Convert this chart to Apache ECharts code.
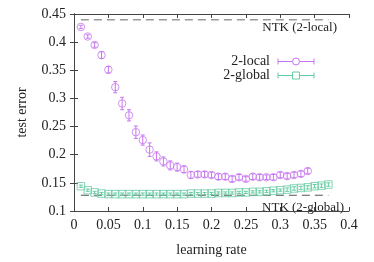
<!DOCTYPE html>
<html><head><meta charset="utf-8">
<script src="https://cdn.jsdelivr.net/npm/echarts@6/dist/echarts.min.js"></script>
<style>html,body{margin:0;padding:0;background:#fff}#c{width:374px;height:262px}</style>
</head><body><div id="c"></div>
<script>
const xLocal = [0.01,0.02,0.03,0.04,0.05,0.06,0.07,0.08,0.09,0.10,0.11,0.12,0.13,0.14,0.15,0.16,0.17,0.18,0.19,0.20,0.21,0.22,0.23,0.24,0.25,0.26,0.27,0.28,0.29,0.30,0.31,0.32,0.33,0.34];
const yLocal = [0.427,0.410,0.395,0.377,0.351,0.320,0.291,0.270,0.240,0.226,0.209,0.197,0.188,0.181,0.178,0.174,0.164,0.165,0.165,0.164,0.161,0.161,0.157,0.160,0.157,0.161,0.160,0.160,0.160,0.164,0.162,0.164,0.166,0.171];
const eLocal = [0.003,0.003,0.004,0.006,0.006,0.010,0.011,0.010,0.011,0.009,0.012,0.008,0.008,0.008,0.007,0.006,0.006,0.005,0.005,0.005,0.005,0.005,0.005,0.005,0.004,0.005,0.005,0.004,0.005,0.005,0.005,0.005,0.005,0.005];
const xGlobal = [0.01,0.02,0.03,0.04,0.05,0.06,0.07,0.08,0.09,0.10,0.11,0.12,0.13,0.14,0.15,0.16,0.17,0.18,0.19,0.20,0.21,0.22,0.23,0.24,0.25,0.26,0.27,0.28,0.29,0.30,0.31,0.32,0.33,0.34,0.35,0.36,0.37];
const yGlobal = [0.144,0.137,0.133,0.131,0.130,0.130,0.130,0.130,0.130,0.130,0.130,0.130,0.130,0.130,0.130,0.130,0.131,0.131,0.131,0.131,0.132,0.132,0.132,0.133,0.133,0.134,0.134,0.135,0.136,0.137,0.138,0.140,0.141,0.142,0.144,0.145,0.147];
const eGlobal = [0.002,0.002,0.002,0.002,0.002,0.002,0.002,0.002,0.002,0.002,0.002,0.002,0.002,0.002,0.002,0.002,0.002,0.002,0.002,0.002,0.002,0.002,0.002,0.002,0.002,0.002,0.002,0.002,0.002,0.002,0.003,0.003,0.003,0.003,0.003,0.003,0.003];
const ntkLocal = 0.44;
const ntkGlobal = 0.128;
const ntkRange = [0.01,0.37];
const xTicks = [0,0.05,0.1,0.15,0.2,0.25,0.3,0.35,0.4];
const yTicks = [0.1,0.15,0.2,0.25,0.3,0.35,0.4,0.45];

const cLocal = '#c775f0';
const cGlobal = '#66cba3';
const font = 'Liberation Serif';
const axisCol = '#444';
const txt = '#222';

function errSeries(xs, ys, es, color, z) {
  return {
    type: 'custom', z: z,
    data: xs.map((x,i)=>[x, ys[i]-es[i], ys[i]+es[i]]),
    renderItem: function(params, api){
      const lo = api.coord([api.value(0), api.value(1)]);
      const hi = api.coord([api.value(0), api.value(2)]);
      const w = 2;
      const st = {stroke: color, lineWidth: 1};
      return {type:'group', children:[
        {type:'line', shape:{x1:lo[0],y1:lo[1],x2:hi[0],y2:hi[1]}, style:st},
        {type:'line', shape:{x1:lo[0]-w,y1:lo[1],x2:lo[0]+w,y2:lo[1]}, style:st},
        {type:'line', shape:{x1:hi[0]-w,y1:hi[1],x2:hi[0]+w,y2:hi[1]}, style:st}
      ]};
    }
  };
}

const chart = echarts.init(document.getElementById('c'), null, {renderer:'canvas'});
const axisCommon = {
  min: 0, max: 0.4, interval: 0.05,
  axisLine: {show:true, lineStyle:{color:axisCol, width:1}},
  axisTick: {show:true, inside:true, length:4, lineStyle:{color:axisCol}},
  splitLine: {show:false}
};
chart.setOption({
  animation: false,
  grid: {left:74, right:25, top:14, bottom:44},
  xAxis: [
    Object.assign({}, axisCommon, {
      type:'value', position:'bottom',
      name:'learning rate', nameLocation:'middle', nameGap:32,
      nameTextStyle:{fontFamily:font, fontSize:14, color:txt},
      axisLabel:{fontFamily:font, fontSize:14, color:txt, margin:7,
        formatter: v => { const t = xTicks.find(k=>Math.abs(k-v)<1e-9); return t===undefined? '' : String(t); }}
    }),
    Object.assign({}, axisCommon, {type:'value', position:'top', axisLabel:{show:false}})
  ],
  yAxis: [
    {type:'value', min:0.1, max:0.45, interval:0.05, position:'left',
      axisLine:{show:true, lineStyle:{color:axisCol}},
      axisTick:{show:true, inside:true, length:4, lineStyle:{color:axisCol}},
      splitLine:{show:false},
      name:'test error', nameLocation:'middle', nameGap:45, nameRotate:90,
      nameTextStyle:{fontFamily:font, fontSize:14, color:txt},
      axisLabel:{fontFamily:font, fontSize:14, color:txt, margin:8,
        formatter: v => { const t = yTicks.find(k=>Math.abs(k-v)<1e-9); return t===undefined? '' : String(t); }}
    },
    {type:'value', min:0.1, max:0.45, interval:0.05, position:'right',
      axisLine:{show:true, lineStyle:{color:axisCol}},
      axisTick:{show:true, inside:true, length:4, lineStyle:{color:axisCol}},
      splitLine:{show:false}, axisLabel:{show:false}}
  ],
  graphic: [
    {type:'text', x:337, y:21, style:{text:'NTK (2-local)', font:'13px "Liberation Serif"', fill:txt, textAlign:'right'}},
    {type:'text', x:344, y:201, style:{text:'NTK (2-global)', font:'13px "Liberation Serif"', fill:txt, textAlign:'right'}},
    {type:'text', x:270, y:54, style:{text:'2-local', font:'14px "Liberation Serif"', fill:txt, textAlign:'right'}},
    {type:'text', x:270, y:68, style:{text:'2-global', font:'14px "Liberation Serif"', fill:txt, textAlign:'right'}},
    {type:'line', shape:{x1:278,y1:61.5,x2:314,y2:61.5}, style:{stroke:cLocal, lineWidth:1}},
    {type:'line', shape:{x1:278,y1:58.5,x2:278,y2:64.5}, style:{stroke:cLocal, lineWidth:1}},
    {type:'line', shape:{x1:314,y1:58.5,x2:314,y2:64.5}, style:{stroke:cLocal, lineWidth:1}},
    {type:'circle', shape:{cx:296,cy:61.5,r:3.5}, style:{stroke:cLocal, fill:'#fff', lineWidth:1}},
    {type:'line', shape:{x1:278,y1:75.5,x2:314,y2:75.5}, style:{stroke:cGlobal, lineWidth:1}},
    {type:'line', shape:{x1:278,y1:72.5,x2:278,y2:78.5}, style:{stroke:cGlobal, lineWidth:1}},
    {type:'line', shape:{x1:314,y1:72.5,x2:314,y2:78.5}, style:{stroke:cGlobal, lineWidth:1}},
    {type:'rect', shape:{x:292.5,y:72,width:7,height:7}, style:{stroke:cGlobal, fill:'#fff', lineWidth:1}}
  ],
  series: [
    {type:'line', data: ntkRange.map(x=>[x,ntkLocal]), symbol:'none', z:1,
      lineStyle:{color:'#999', width:1.5, type:[8,5]}},
    {type:'line', data: ntkRange.map(x=>[x,ntkGlobal]), symbol:'none', z:1,
      lineStyle:{color:'#555', width:1.2, type:[8,5]}},
    errSeries(xGlobal, yGlobal, eGlobal, cGlobal, 3),
    {type:'scatter', data: xGlobal.map((x,i)=>[x,yGlobal[i]]), symbol:'rect', symbolSize:7.5, z:2,
      itemStyle:{color:'rgba(0,0,0,0)', borderColor:cGlobal, borderWidth:1}},
    errSeries(xLocal, yLocal, eLocal, cLocal, 5),
    {type:'scatter', data: xLocal.map((x,i)=>[x,yLocal[i]]), symbol:'circle', symbolSize:7.5, z:4,
      itemStyle:{color:'rgba(0,0,0,0)', borderColor:cLocal, borderWidth:1}}
  ]
});
</script></body></html>
